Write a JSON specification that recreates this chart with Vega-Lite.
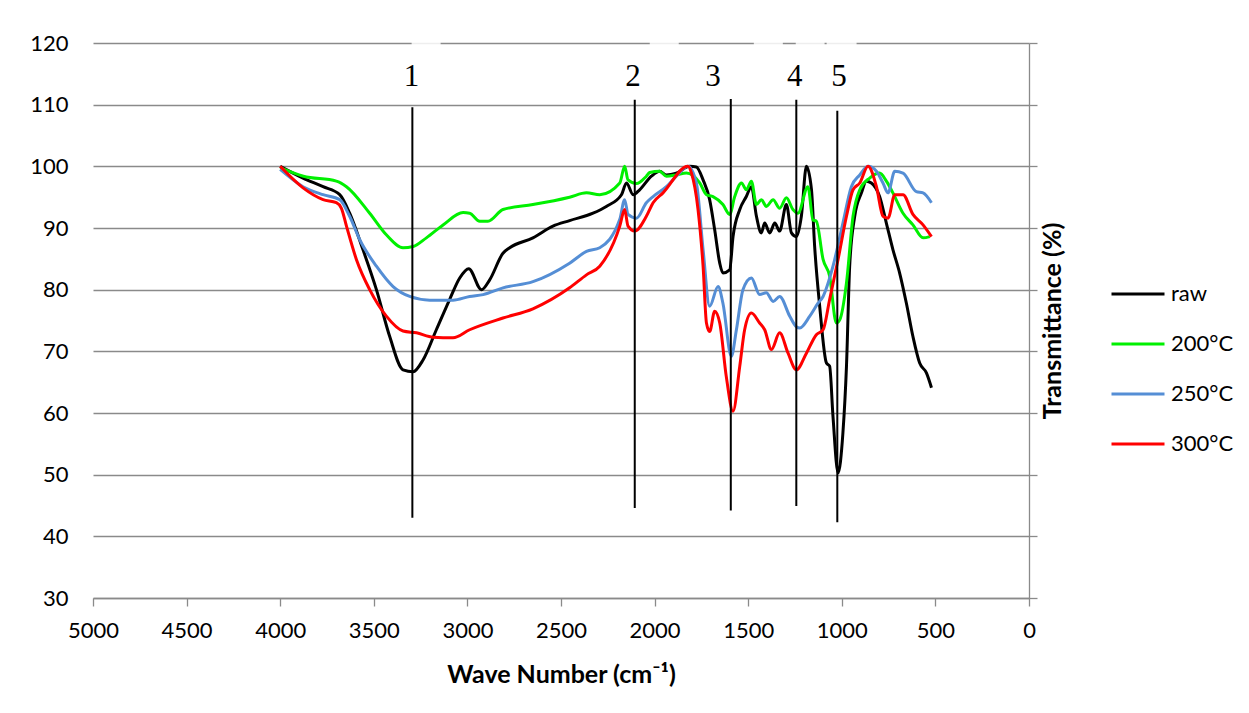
{
  "$schema": "https://vega.github.io/schema/vega-lite/v6.json",
  "width": 936,
  "height": 555,
  "autosize": "none",
  "padding": {"left": 93, "top": 43, "right": 220, "bottom": 115},
  "background": "white",
  "config": {"view": {"stroke": null}, "font": "Lato"},
  "datasets": {
    "spectra": [
      {"s":"raw","wn":4000,"t":100},{"s":"raw","wn":3878,"t":98.1},{"s":"raw","wn":3771,"t":96.7},{"s":"raw","wn":3682,"t":95.4},{"s":"raw","wn":3629,"t":92.4},{"s":"raw","wn":3558,"t":86.5},{"s":"raw","wn":3486,"t":80.0},{"s":"raw","wn":3415,"t":72.4},{"s":"raw","wn":3344,"t":67.0},{"s":"raw","wn":3290,"t":66.7},{"s":"raw","wn":3237,"t":68.6},{"s":"raw","wn":3166,"t":73.5},{"s":"raw","wn":3095,"t":78.4},{"s":"raw","wn":3041,"t":81.9},{"s":"raw","wn":2993,"t":83.4},{"s":"raw","wn":2925,"t":80.0},{"s":"raw","wn":2881,"t":81.6},{"s":"raw","wn":2810,"t":85.9},{"s":"raw","wn":2774,"t":86.8},{"s":"raw","wn":2650,"t":88.4},{"s":"raw","wn":2543,"t":90.3},{"s":"raw","wn":2454,"t":91.2},{"s":"raw","wn":2329,"t":92.4},{"s":"raw","wn":2258,"t":93.5},{"s":"raw","wn":2177,"t":95.4},{"s":"raw","wn":2150,"t":97.3},{"s":"raw","wn":2115,"t":95.4},{"s":"raw","wn":2080,"t":96.2},{"s":"raw","wn":2017,"t":98.4},{"s":"raw","wn":1973,"t":99.2},{"s":"raw","wn":1937,"t":98.6},{"s":"raw","wn":1884,"t":98.9},{"s":"raw","wn":1812,"t":100},{"s":"raw","wn":1777,"t":99.9},{"s":"raw","wn":1741,"t":97.8},{"s":"raw","wn":1706,"t":94.6},{"s":"raw","wn":1679,"t":89.7},{"s":"raw","wn":1652,"t":84.3},{"s":"raw","wn":1635,"t":82.7},{"s":"raw","wn":1599,"t":83.2},{"s":"raw","wn":1581,"t":88.6},{"s":"raw","wn":1545,"t":93.0},{"s":"raw","wn":1510,"t":95.1},{"s":"raw","wn":1483,"t":96.7},{"s":"raw","wn":1456,"t":91.9},{"s":"raw","wn":1430,"t":89.2},{"s":"raw","wn":1412,"t":90.8},{"s":"raw","wn":1385,"t":89.2},{"s":"raw","wn":1358,"t":90.8},{"s":"raw","wn":1332,"t":89.5},{"s":"raw","wn":1296,"t":93.8},{"s":"raw","wn":1269,"t":89.2},{"s":"raw","wn":1243,"t":88.6},{"s":"raw","wn":1216,"t":91.9},{"s":"raw","wn":1189,"t":100},{"s":"raw","wn":1162,"t":96.2},{"s":"raw","wn":1145,"t":87.0},{"s":"raw","wn":1118,"t":77.3},{"s":"raw","wn":1082,"t":68.1},{"s":"raw","wn":1065,"t":67.6},{"s":"raw","wn":1047,"t":59.4},{"s":"raw","wn":1020,"t":50.3},{"s":"raw","wn":994,"t":56.8},{"s":"raw","wn":975,"t":67.6},{"s":"raw","wn":958,"t":83.8},{"s":"raw","wn":931,"t":91.9},{"s":"raw","wn":895,"t":95.7},{"s":"raw","wn":869,"t":97.6},{"s":"raw","wn":842,"t":97.3},{"s":"raw","wn":798,"t":95.1},{"s":"raw","wn":762,"t":90.8},{"s":"raw","wn":727,"t":86.5},{"s":"raw","wn":691,"t":82.7},{"s":"raw","wn":655,"t":77.8},{"s":"raw","wn":620,"t":72.4},{"s":"raw","wn":584,"t":68.1},{"s":"raw","wn":548,"t":66.5},{"s":"raw","wn":521,"t":64.1},
      {"s":"200°C","wn":4000,"t":99.8},{"s":"200°C","wn":3876,"t":98.4},{"s":"200°C","wn":3700,"t":97.6},{"s":"200°C","wn":3646,"t":96.7},{"s":"200°C","wn":3522,"t":92.4},{"s":"200°C","wn":3433,"t":88.9},{"s":"200°C","wn":3344,"t":86.8},{"s":"200°C","wn":3290,"t":87.0},{"s":"200°C","wn":3219,"t":88.4},{"s":"200°C","wn":3130,"t":90.5},{"s":"200°C","wn":3023,"t":92.5},{"s":"200°C","wn":2988,"t":92.4},{"s":"200°C","wn":2934,"t":91.1},{"s":"200°C","wn":2890,"t":91.1},{"s":"200°C","wn":2810,"t":93.0},{"s":"200°C","wn":2650,"t":93.8},{"s":"200°C","wn":2454,"t":95.0},{"s":"200°C","wn":2364,"t":95.7},{"s":"200°C","wn":2293,"t":95.4},{"s":"200°C","wn":2186,"t":97.3},{"s":"200°C","wn":2160,"t":100},{"s":"200°C","wn":2142,"t":97.8},{"s":"200°C","wn":2097,"t":97.2},{"s":"200°C","wn":2044,"t":98.4},{"s":"200°C","wn":2026,"t":99.0},{"s":"200°C","wn":1973,"t":99.2},{"s":"200°C","wn":1937,"t":98.4},{"s":"200°C","wn":1884,"t":98.6},{"s":"200°C","wn":1830,"t":98.9},{"s":"200°C","wn":1759,"t":97.3},{"s":"200°C","wn":1723,"t":95.4},{"s":"200°C","wn":1688,"t":95.1},{"s":"200°C","wn":1635,"t":93.8},{"s":"200°C","wn":1599,"t":92.2},{"s":"200°C","wn":1572,"t":95.1},{"s":"200°C","wn":1536,"t":97.3},{"s":"200°C","wn":1510,"t":96.2},{"s":"200°C","wn":1483,"t":97.6},{"s":"200°C","wn":1456,"t":93.8},{"s":"200°C","wn":1430,"t":94.6},{"s":"200°C","wn":1403,"t":93.5},{"s":"200°C","wn":1367,"t":94.6},{"s":"200°C","wn":1332,"t":93.2},{"s":"200°C","wn":1296,"t":94.9},{"s":"200°C","wn":1261,"t":93.0},{"s":"200°C","wn":1234,"t":92.4},{"s":"200°C","wn":1181,"t":96.7},{"s":"200°C","wn":1154,"t":91.3},{"s":"200°C","wn":1136,"t":91.1},{"s":"200°C","wn":1100,"t":84.9},{"s":"200°C","wn":1065,"t":82.2},{"s":"200°C","wn":1029,"t":74.6},{"s":"200°C","wn":1011,"t":75.1},{"s":"200°C","wn":975,"t":81.1},{"s":"200°C","wn":940,"t":91.9},{"s":"200°C","wn":904,"t":96.2},{"s":"200°C","wn":851,"t":98.1},{"s":"200°C","wn":798,"t":98.9},{"s":"200°C","wn":762,"t":97.6},{"s":"200°C","wn":727,"t":95.7},{"s":"200°C","wn":673,"t":92.4},{"s":"200°C","wn":620,"t":90.5},{"s":"200°C","wn":566,"t":88.4},{"s":"200°C","wn":530,"t":88.6},
      {"s":"250°C","wn":4000,"t":99.5},{"s":"250°C","wn":3878,"t":96.7},{"s":"250°C","wn":3771,"t":95.4},{"s":"250°C","wn":3682,"t":94.6},{"s":"250°C","wn":3629,"t":91.9},{"s":"250°C","wn":3575,"t":88.1},{"s":"250°C","wn":3486,"t":83.8},{"s":"250°C","wn":3397,"t":80.5},{"s":"250°C","wn":3308,"t":78.9},{"s":"250°C","wn":3201,"t":78.3},{"s":"250°C","wn":3077,"t":78.3},{"s":"250°C","wn":2988,"t":78.9},{"s":"250°C","wn":2916,"t":79.2},{"s":"250°C","wn":2810,"t":80.3},{"s":"250°C","wn":2650,"t":81.3},{"s":"250°C","wn":2454,"t":84.3},{"s":"250°C","wn":2364,"t":86.2},{"s":"250°C","wn":2293,"t":86.8},{"s":"250°C","wn":2186,"t":91.4},{"s":"250°C","wn":2160,"t":94.6},{"s":"250°C","wn":2142,"t":92.2},{"s":"250°C","wn":2097,"t":91.6},{"s":"250°C","wn":2044,"t":94.1},{"s":"250°C","wn":2008,"t":95.1},{"s":"250°C","wn":1937,"t":96.7},{"s":"250°C","wn":1884,"t":98.4},{"s":"250°C","wn":1822,"t":100},{"s":"250°C","wn":1777,"t":97.3},{"s":"250°C","wn":1741,"t":86.5},{"s":"250°C","wn":1706,"t":77.3},{"s":"250°C","wn":1661,"t":80.5},{"s":"250°C","wn":1635,"t":77.8},{"s":"250°C","wn":1590,"t":69.2},{"s":"250°C","wn":1563,"t":73.5},{"s":"250°C","wn":1528,"t":80.0},{"s":"250°C","wn":1483,"t":81.9},{"s":"250°C","wn":1439,"t":79.2},{"s":"250°C","wn":1403,"t":79.5},{"s":"250°C","wn":1367,"t":78.1},{"s":"250°C","wn":1332,"t":78.9},{"s":"250°C","wn":1278,"t":75.7},{"s":"250°C","wn":1243,"t":74.0},{"s":"250°C","wn":1224,"t":73.8},{"s":"250°C","wn":1171,"t":75.7},{"s":"250°C","wn":1127,"t":77.8},{"s":"250°C","wn":1100,"t":78.9},{"s":"250°C","wn":1047,"t":83.8},{"s":"250°C","wn":994,"t":90.8},{"s":"250°C","wn":949,"t":96.7},{"s":"250°C","wn":904,"t":98.6},{"s":"250°C","wn":860,"t":100},{"s":"250°C","wn":815,"t":99.2},{"s":"250°C","wn":780,"t":97.3},{"s":"250°C","wn":753,"t":95.7},{"s":"250°C","wn":717,"t":99.2},{"s":"250°C","wn":673,"t":98.9},{"s":"250°C","wn":602,"t":95.9},{"s":"250°C","wn":566,"t":95.7},{"s":"250°C","wn":521,"t":94.1},
      {"s":"300°C","wn":4000,"t":100},{"s":"300°C","wn":3878,"t":96.5},{"s":"300°C","wn":3771,"t":94.6},{"s":"300°C","wn":3700,"t":94.1},{"s":"300°C","wn":3673,"t":93.2},{"s":"300°C","wn":3646,"t":90.3},{"s":"300°C","wn":3593,"t":84.9},{"s":"300°C","wn":3522,"t":80.0},{"s":"300°C","wn":3433,"t":75.7},{"s":"300°C","wn":3344,"t":73.3},{"s":"300°C","wn":3272,"t":73.0},{"s":"300°C","wn":3183,"t":72.3},{"s":"300°C","wn":3077,"t":72.2},{"s":"300°C","wn":2988,"t":73.5},{"s":"300°C","wn":2810,"t":75.4},{"s":"300°C","wn":2650,"t":76.9},{"s":"300°C","wn":2454,"t":80.3},{"s":"300°C","wn":2364,"t":82.4},{"s":"300°C","wn":2293,"t":83.8},{"s":"300°C","wn":2186,"t":90.3},{"s":"300°C","wn":2160,"t":93.0},{"s":"300°C","wn":2142,"t":90.3},{"s":"300°C","wn":2106,"t":89.5},{"s":"300°C","wn":2044,"t":91.9},{"s":"300°C","wn":2008,"t":94.1},{"s":"300°C","wn":1955,"t":95.7},{"s":"300°C","wn":1822,"t":100},{"s":"300°C","wn":1803,"t":98.9},{"s":"300°C","wn":1768,"t":93.0},{"s":"300°C","wn":1741,"t":83.8},{"s":"300°C","wn":1723,"t":74.6},{"s":"300°C","wn":1706,"t":73.2},{"s":"300°C","wn":1679,"t":76.5},{"s":"300°C","wn":1652,"t":74.6},{"s":"300°C","wn":1617,"t":65.9},{"s":"300°C","wn":1581,"t":60.3},{"s":"300°C","wn":1545,"t":67.6},{"s":"300°C","wn":1519,"t":73.5},{"s":"300°C","wn":1483,"t":76.2},{"s":"300°C","wn":1439,"t":74.6},{"s":"300°C","wn":1412,"t":73.5},{"s":"300°C","wn":1376,"t":70.3},{"s":"300°C","wn":1332,"t":73.0},{"s":"300°C","wn":1287,"t":69.7},{"s":"300°C","wn":1243,"t":67.0},{"s":"300°C","wn":1189,"t":69.7},{"s":"300°C","wn":1136,"t":72.7},{"s":"300°C","wn":1100,"t":73.5},{"s":"300°C","wn":1065,"t":78.4},{"s":"300°C","wn":1020,"t":84.9},{"s":"300°C","wn":975,"t":91.9},{"s":"300°C","wn":940,"t":96.2},{"s":"300°C","wn":904,"t":97.3},{"s":"300°C","wn":860,"t":100},{"s":"300°C","wn":815,"t":96.7},{"s":"300°C","wn":780,"t":91.9},{"s":"300°C","wn":753,"t":91.6},{"s":"300°C","wn":717,"t":95.4},{"s":"300°C","wn":673,"t":95.4},{"s":"300°C","wn":620,"t":92.2},{"s":"300°C","wn":566,"t":90.5},{"s":"300°C","wn":521,"t":88.6}
    ],
    "peaks": [
      {"label":"1","wn":3294,"top":109.6,"bottom":43.0,"lx":3299,"ly":113.1},
      {"label":"2","wn":2106,"top":110.8,"bottom":44.6,"lx":2115,"ly":113.1},
      {"label":"3","wn":1593,"top":110.9,"bottom":44.2,"lx":1688,"ly":113.1},
      {"label":"4","wn":1243,"top":110.8,"bottom":44.9,"lx":1252,"ly":113.1},
      {"label":"5","wn":1024,"top":109.0,"bottom":42.3,"lx":1015,"ly":113.1}
    ],
    "boxes": [
      {"a":3298,"b":3143},{"a":2026,"b":1871},{"a":1470,"b":1315},{"a":1246,"b":1092},{"a":1081,"b":921}
    ]
  },
  "resolve": {"axis": {"x": "independent", "y": "independent"}},
  "layer": [
    {
      "data": {"name": "spectra"},
      "mark": {"type": "line", "strokeWidth": 3, "interpolate": "monotone"},
      "encoding": {
        "x": {"field": "wn", "type": "quantitative",
              "scale": {"domain": [0, 5000], "reverse": true, "nice": false, "zero": false},
              "axis": {"orient": "bottom", "values": [0,500,1000,1500,2000,2500,3000,3500,4000,4500,5000], "format": "d",
                       "grid": false, "domainColor": "#8a8a8a", "domainWidth": 1.3, "tickColor": "#8a8a8a", "tickWidth": 1.3, "tickSize": 8,
                       "labelFontSize": 22, "labelColor": "black", "labelPadding": 14, "labelFlush": false,
                       "title": "Wave Number (cm⁻¹)", "titleFontSize": 25, "titleFontWeight": "bold", "titleColor": "black", "titlePadding": 21}},
        "y": {"field": "t", "type": "quantitative",
              "scale": {"domain": [30, 120], "nice": false, "zero": false},
              "axis": {"orient": "left", "values": [30,40,50,60,70,80,90,100,110,120], "grid": true, "gridColor": "#8a8a8a", "gridWidth": 1.3,
                       "domain": false, "ticks": false, "labelFontSize": 22, "labelColor": "black", "labelPadding": 25, "title": null}},
        "color": {"field": "s", "type": "nominal",
                  "scale": {"domain": ["raw", "200°C", "250°C", "300°C"], "range": ["#000000", "#00F000", "#558ED5", "#FF0000"]},
                  "legend": {"orient": "none", "legendX": 1017, "legendY": 223, "title": null, "symbolType": "stroke", "symbolSize": 2809,
                             "symbolStrokeWidth": 3, "labelFontSize": 22, "labelColor": "black", "rowPadding": 11, "labelOffset": 5}},
        "order": {"field": "wn", "sort": "descending"}
      }
    },
    {
      "data": {"name": "peaks"},
      "mark": {"type": "rule", "color": "black", "strokeWidth": 2},
      "encoding": {
        "x": {"field": "wn", "type": "quantitative", "axis": null},
        "y": {"field": "top", "type": "quantitative",
              "axis": {"orient": "right", "labels": false, "grid": false, "domain": true, "domainColor": "#8a8a8a", "domainWidth": 1.3,
                       "ticks": true, "tickColor": "#8a8a8a", "tickWidth": 1.3, "tickSize": 8, "values": [30,40,50,60,70,80,90,100,110,120],
                       "title": "Transmittance (%)", "titleFontSize": 25, "titleFontWeight": "bold", "titleColor": "black",
                       "titleAngle": 270, "titleBaseline": "top", "titlePadding": 3}},
        "y2": {"field": "bottom"}
      }
    },
    {
      "data": {"name": "peaks"},
      "mark": {"type": "text", "font": "Liberation Serif", "fontSize": 31, "baseline": "alphabetic", "align": "center", "color": "black"},
      "encoding": {
        "x": {"field": "lx", "type": "quantitative", "axis": null},
        "y": {"field": "ly", "type": "quantitative", "axis": null},
        "text": {"field": "label"}
      }
    },
    {
      "data": {"name": "boxes"},
      "mark": {"type": "rect", "color": "white", "opacity": 0.85},
      "encoding": {
        "x": {"field": "a", "type": "quantitative", "axis": null},
        "x2": {"field": "b"},
        "y": {"datum": 119.6, "type": "quantitative", "axis": null},
        "y2": {"datum": 120.4}
      }
    }
  ]
}
